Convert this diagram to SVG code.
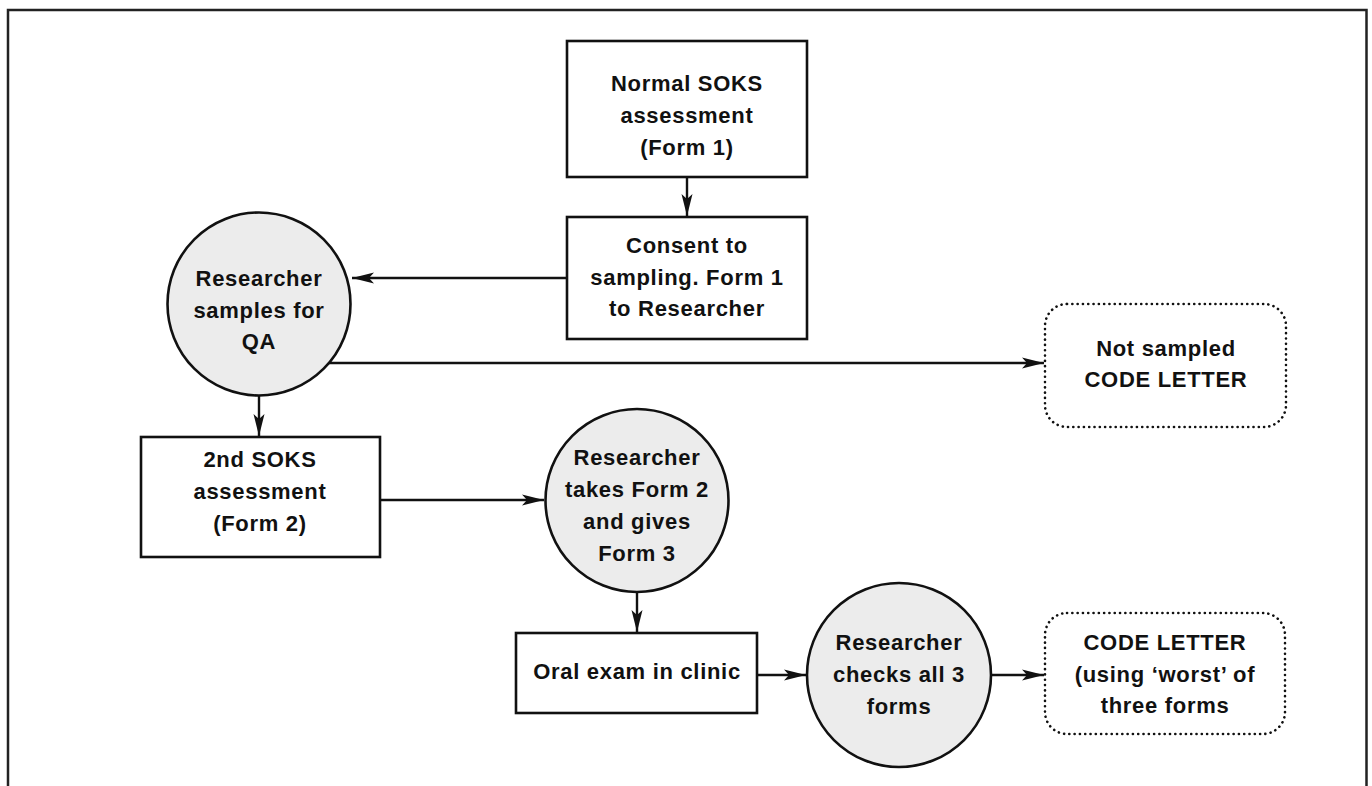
<svg xmlns="http://www.w3.org/2000/svg" width="1372" height="786" viewBox="0 0 1372 786">
<style>
.box{fill:#fff;stroke:#111;stroke-width:2.6}
.circ{fill:#ececec;stroke:#111;stroke-width:2.6}
.dot{fill:#fff;stroke:#111;stroke-width:2.6;stroke-dasharray:0.1 5.2;stroke-linecap:round}
.lbl{font-family:"Liberation Sans",Arial,sans-serif;font-weight:bold;font-size:22px;letter-spacing:0.7px;fill:#111;text-anchor:middle}
.conn{stroke:#111;stroke-width:2.4;fill:none;marker-end:url(#ah)}
</style>
<defs>
<marker id="ah" markerUnits="userSpaceOnUse" markerWidth="24" markerHeight="14" refX="22" refY="6" orient="auto">
<path d="M0,0.5 L22,6 L0,11.5 L5,6 z" fill="#111"/>
</marker>
</defs>
<rect width="1372" height="786" fill="#fff"/>
<path d="M8,786 L8,10 L1366.5,10 L1366.5,786" fill="none" stroke="#222" stroke-width="2.5"/>
<g id="connectors">
<line class="conn" x1="687" y1="177" x2="687" y2="216"/>
<line class="conn" x1="567" y1="278" x2="352" y2="278"/>
<line class="conn" x1="328" y1="363" x2="1044" y2="363"/>
<line class="conn" x1="259" y1="396" x2="259" y2="436"/>
<line class="conn" x1="380" y1="500" x2="544" y2="500"/>
<line class="conn" x1="637" y1="592" x2="637" y2="632"/>
<line class="conn" x1="757" y1="675" x2="806" y2="675"/>
<line class="conn" x1="991" y1="675" x2="1044" y2="675"/>
</g>
<g id="n1"><rect class="box" x="567" y="41" width="240" height="136"/>
<text class="lbl" x="687" y="91">Normal SOKS</text><text class="lbl" x="687" y="123">assessment</text><text class="lbl" x="687" y="155">(Form 1)</text></g>
<g id="n2"><rect class="box" x="567" y="217" width="240" height="122"/>
<text class="lbl" x="687" y="253">Consent to</text><text class="lbl" x="687" y="285">sampling. Form 1</text><text class="lbl" x="687" y="316">to Researcher</text></g>
<g id="n3"><circle class="circ" cx="259" cy="304" r="91.5"/>
<text class="lbl" x="259" y="286">Researcher</text><text class="lbl" x="259" y="318">samples for</text><text class="lbl" x="259" y="349">QA</text></g>
<g id="n4"><rect class="dot" x="1045" y="304" width="241" height="123" rx="22"/>
<text class="lbl" x="1166" y="356">Not sampled</text><text class="lbl" x="1166" y="387">CODE LETTER</text></g>
<g id="n5"><rect class="box" x="141" y="437" width="239" height="120"/>
<text class="lbl" x="260" y="467">2nd SOKS</text><text class="lbl" x="260" y="499">assessment</text><text class="lbl" x="260" y="531">(Form 2)</text></g>
<g id="n6"><circle class="circ" cx="637" cy="500.5" r="91.5"/>
<text class="lbl" x="637" y="465">Researcher</text><text class="lbl" x="637" y="497">takes Form 2</text><text class="lbl" x="637" y="529">and gives</text><text class="lbl" x="637" y="561">Form 3</text></g>
<g id="n7"><rect class="box" x="516" y="633" width="241" height="80"/>
<text class="lbl" x="637" y="679">Oral exam in clinic</text></g>
<g id="n8"><circle class="circ" cx="899" cy="675" r="92"/>
<text class="lbl" x="899" y="650">Researcher</text><text class="lbl" x="899" y="682">checks all 3</text><text class="lbl" x="899" y="714">forms</text></g>
<g id="n9"><rect class="dot" x="1045" y="613" width="240" height="121" rx="22"/>
<text class="lbl" x="1165" y="650">CODE LETTER</text><text class="lbl" x="1165" y="682">(using ‘worst’ of</text><text class="lbl" x="1165" y="713">three forms</text></g>
</svg>
